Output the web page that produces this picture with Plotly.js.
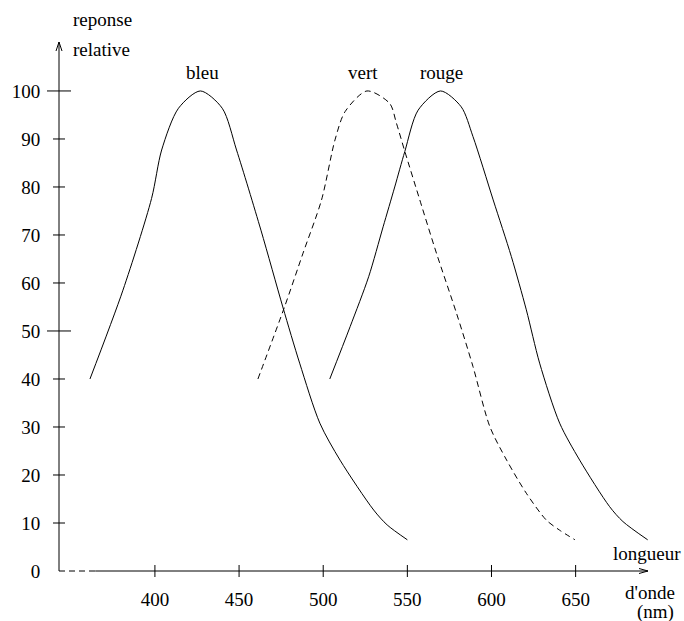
<!DOCTYPE html>
<html>
<head>
<meta charset="utf-8">
<script src="https://cdn.plot.ly/plotly-3.0.1.min.js"></script>
<style>
html,body{margin:0;padding:0;background:#fff;}
#chart{width:684px;height:621px;}
</style>
</head>
<body>
<div id="chart"></div>
<script>
// Data
var blueX  = [361.4, 381, 398, 404, 414, 427, 440, 448.5, 463, 476, 486, 498, 510, 530, 538, 550];
var blueY  = [40, 58.5, 77.6, 87.7, 96.4, 100, 96.4, 87.7, 71, 55, 43.3, 30.8, 23.1, 12.7, 9.6, 6.5];

var greenX = [461.2, 477, 488, 499, 507, 513, 526, 539.5, 543.5, 548.5, 557.4, 567.3, 579.2, 589, 599, 609, 620.7, 632.6, 640.5, 649.6];
var greenY = [40, 55, 66.2, 77.3, 89.8, 95.7, 100, 97.4, 93.3, 87.4, 77.3, 66.2, 53.7, 42.6, 30.1, 23.1, 16.2, 10.6, 8.5, 6.5];

var redX   = [503.9, 516, 527, 535.6, 542.5, 548.5, 556.4, 569.7, 582, 589, 601, 611.8, 620.7, 628.6, 640.5, 652.4, 670.2, 678.1, 692.8];
var redY   = [40, 50.9, 61.3, 71.7, 80, 87.4, 96, 100, 96.7, 90.5, 77.3, 65.5, 54.4, 43.3, 30.8, 23.1, 13.4, 10.3, 6.5];

var curveNames  = ["bleu", "vert", "rouge"];
var peakX       = [428.5, 523.5, 570.4];
var xTicks      = [400, 450, 500, 550, 600, 650];
var yTickLabels = [0, 10, 20, 30, 40, 50, 60, 70, 80, 90, 100];
var yTickMarks  = [10, 20, 30, 40, 50, 60, 70, 80, 90, 100];
var yLongTicks  = [50, 100];

var xMin = 343, xMax = 693, yMax = 110.2;
var dashEnd = 364.5;
var plotW = 589, plotH = 529;

var font = {family: "Liberation Serif", size: 19, color: "#000"};

var traces = [
  {x: blueX, y: blueY, mode: "lines", line: {color: "#000", width: 1, shape: "spline", smoothing: 0.8}, cliponaxis: false, hoverinfo: "skip"},
  {x: greenX, y: greenY, mode: "lines", line: {color: "#000", width: 1, dash: "6px,4px", shape: "spline", smoothing: 0.8}, cliponaxis: false, hoverinfo: "skip"},
  {x: redX, y: redY, mode: "lines", line: {color: "#000", width: 1, shape: "spline", smoothing: 0.8}, cliponaxis: false, hoverinfo: "skip"}
];

var shapes = [];
function ln() { return {color: "#000", width: 1}; }
function pline(x0, y0, x1, y1, dash) {
  var l = ln(); if (dash) l.dash = dash;
  shapes.push({type: "line", xref: "paper", yref: "paper", x0: x0, y0: y0, x1: x1, y1: y1, line: l});
}
var dashFrac = (dashEnd - xMin) / (xMax - xMin);
// axes
pline(0, 0, 0, 1);
pline(0, 0, dashFrac, 0, "6px,4px");
pline(dashFrac, 0, 1, 0);
// arrowheads
pline(0, 1, -3 / plotW, 1 - 9 / plotH);
pline(0, 1, 3 / plotW, 1 - 9 / plotH);
pline(1, 0, 1 - 9 / plotW, 2.5 / plotH);
pline(1, 0, 1 - 9 / plotW, -2.5 / plotH);
// x ticks
xTicks.forEach(function (v) {
  shapes.push({type: "line", xref: "x", yref: "paper", x0: v, x1: v, y0: -6 / plotH, y1: 6 / plotH, line: ln()});
});
// y ticks
yTickMarks.forEach(function (v) {
  var L = yLongTicks.indexOf(v) >= 0 ? 12 : 6;
  shapes.push({type: "line", xref: "paper", yref: "y", x0: -L / plotW, x1: L / plotW, y0: v, y1: v, line: ln()});
});

var annotations = [];
curveNames.forEach(function (n, i) {
  annotations.push({text: n, x: peakX[i], y: 103.75, xref: "x", yref: "y",
    xanchor: "center", yanchor: "middle", showarrow: false, font: font});
});
function pxAnn(text, px, py, xanchor) {
  annotations.push({text: text, xref: "paper", yref: "paper",
    x: (px - 59) / plotW, y: (571 - py) / plotH, xanchor: xanchor, yanchor: "middle",
    showarrow: false, font: font});
}
pxAnn("reponse", 71, 19, "left");
pxAnn("relative", 71, 49, "left");
pxAnn("longueur", 647, 553, "center");
pxAnn("d'onde", 650, 592, "center");
pxAnn("(nm)", 655.5, 612, "center");

var layout = {
  width: 684, height: 621,
  margin: {l: 59, r: 36, t: 42, b: 50, pad: 0},
  paper_bgcolor: "#fff", plot_bgcolor: "#fff",
  showlegend: false,
  font: font,
  xaxis: {range: [xMin, xMax], showgrid: false, zeroline: false, showline: false,
    tickmode: "array", tickvals: xTicks, ticktext: xTicks.map(String),
    ticks: "outside", ticklen: 11, tickcolor: "rgba(0,0,0,0)", tickfont: font, fixedrange: true},
  yaxis: {range: [0, yMax], showgrid: false, zeroline: false, showline: false,
    tickmode: "array", tickvals: yTickLabels, ticktext: yTickLabels.map(String),
    ticks: "outside", ticklen: 14, tickcolor: "rgba(0,0,0,0)", tickfont: font, fixedrange: true},
  shapes: shapes,
  annotations: annotations
};

Plotly.newPlot("chart", traces, layout, {staticPlot: true, displayModeBar: false});
</script>
</body>
</html>
